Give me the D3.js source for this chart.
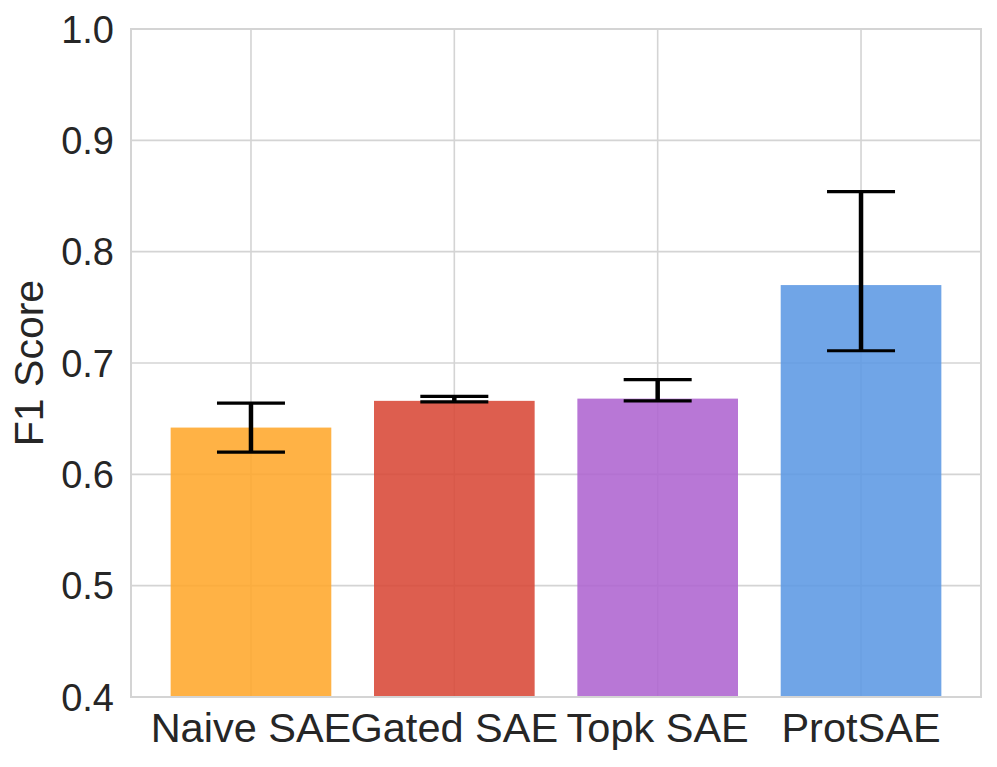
<!DOCTYPE html>
<html>
<head>
<meta charset="utf-8">
<script src="https://cdn.jsdelivr.net/npm/d3@7"></script>
<style>
  body { margin: 0; background: #fff; }
  svg text { font-family: "Liberation Sans", Arial, sans-serif; fill: #262626; }
</style>
</head>
<body>
<svg width="997" height="767"></svg>
<script>
var methods = ["Naive SAE", "Gated SAE", "Topk SAE", "ProtSAE"];
var scores = [0.642, 0.666, 0.668, 0.770];
var errLow = [0.620, 0.665, 0.666, 0.711];
var errHigh = [0.664, 0.670, 0.685, 0.854];
var colors = ["#ffa629", "#d84635", "#ad63d0", "#5b98e3"];
var yTicks = [0.4, 0.5, 0.6, 0.7, 0.8, 0.9, 1.0];

var svg = d3.select("svg");
var pLeft = 131, pRight = 981, pTop = 29, pBottom = 697;

var x = d3.scaleLinear().domain([-0.59, 3.59]).range([pLeft, pRight]);
var y = d3.scaleLinear().domain([0.4, 1.0]).range([pBottom, pTop]);

// grid
svg.selectAll("line.hgrid").data(yTicks).enter().append("line")
    .attr("x1", pLeft).attr("x2", pRight)
    .attr("y1", function(d) { return y(d); })
    .attr("y2", function(d) { return y(d); })
    .attr("stroke", "#d4d4d4").attr("stroke-width", 1.6);
svg.selectAll("line.vgrid").data(methods).enter().append("line")
    .attr("x1", function(d, i) { return x(i); })
    .attr("x2", function(d, i) { return x(i); })
    .attr("y1", pTop).attr("y2", pBottom)
    .attr("stroke", "#d4d4d4").attr("stroke-width", 1.6);

// bars
var bw = x(0.79) - x(0);
svg.selectAll("rect.bar").data(scores).enter().append("rect")
    .attr("x", function(d, i) { return x(i) - bw / 2; })
    .attr("y", function(d) { return y(d); })
    .attr("width", bw)
    .attr("height", function(d) { return pBottom - y(d); })
    .attr("fill", function(d, i) { return colors[i]; })
    .attr("fill-opacity", 0.87);

// error bars
var cap = 34;
methods.forEach(function(m, i) {
    var cx = x(i);
    svg.append("line").attr("x1", cx).attr("x2", cx)
        .attr("y1", y(errLow[i])).attr("y2", y(errHigh[i]))
        .attr("stroke", "#000").attr("stroke-width", 4.5);
    [errLow[i], errHigh[i]].forEach(function(v) {
        svg.append("line").attr("x1", cx - cap).attr("x2", cx + cap)
            .attr("y1", y(v)).attr("y2", y(v))
            .attr("stroke", "#000").attr("stroke-width", 3.2);
    });
});

// frame
svg.append("rect").attr("x", pLeft).attr("y", pTop)
    .attr("width", pRight - pLeft).attr("height", pBottom - pTop)
    .attr("fill", "none").attr("stroke", "#d4d4d4").attr("stroke-width", 2);

// y tick labels
svg.selectAll("text.ytick").data(yTicks).enter().append("text")
    .attr("x", 114)
    .attr("y", function(d) { return y(d); })
    .attr("dy", "0.36em")
    .attr("text-anchor", "end")
    .attr("font-size", 38)
    .text(function(d) { return d.toFixed(1); });

// x tick labels
svg.selectAll("text.xtick").data(methods).enter().append("text")
    .attr("x", function(d, i) { return x(i); })
    .attr("y", 742)
    .attr("text-anchor", "middle")
    .attr("font-size", 41.5)
    .text(function(d) { return d; });

// y label
svg.append("text")
    .attr("transform", "translate(43," + ((pTop + pBottom) / 2) + ") rotate(-90)")
    .attr("text-anchor", "middle")
    .attr("font-size", 41)
    .text("F1 Score");
</script>
</body>
</html>
